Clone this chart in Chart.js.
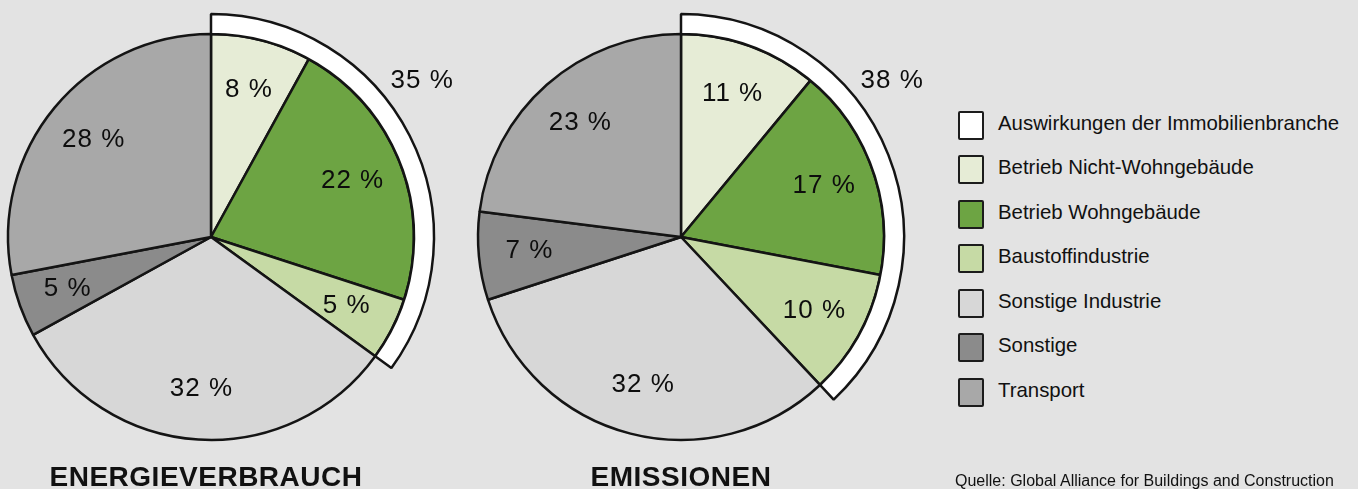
<!DOCTYPE html>
<html lang="de">
<head>
<meta charset="utf-8">
<title>Energieverbrauch und Emissionen</title>
<script src="https://cdn.jsdelivr.net/npm/chart.js@4.4.1/dist/chart.umd.min.js"></script>
<style>
    html, body { margin: 0; padding: 0; }
    body {
        width: 1358px; height: 489px; position: relative; overflow: hidden;
        background: #e3e3e3; color: #111;
        font-family: "Liberation Sans", Arial, sans-serif;
    }
    canvas.pie { position: absolute; top: -23px; }
    #energyPie { left: -49px; }
    #emissionPie { left: 421px; }
    .chart-title {
        position: absolute; top: 463px; line-height: 28px;
        font-size: 28px; font-weight: bold; letter-spacing: 0.5px;
        transform: translateX(-50%); white-space: nowrap;
    }
    .legend-row {
        position: absolute; left: 958px; height: 30px;
        display: flex; align-items: center;
    }
    .legend-box {
        width: 22px; height: 25px; border: 2.5px solid #1c1c1c; border-radius: 2px;
        margin-right: 14px; margin-top: 4px;
    }
    .legend-text { font-size: 20.4px; white-space: nowrap; }
    .source { position: absolute; left: 955px; top: 473px; font-size: 16px; line-height: 16px; white-space: nowrap; }
</style>
</head>
<body>
<canvas id="energyPie" class="pie" width="520" height="520"></canvas>
<canvas id="emissionPie" class="pie" width="520" height="520"></canvas>
<div class="chart-title" style="left:206px">ENERGIEVERBRAUCH</div>
<div class="chart-title" style="left:681px">EMISSIONEN</div>
<div id="legend"></div>
<div class="source">Quelle: Global Alliance for Buildings and Construction</div>

<script>
const categories = ['Betrieb Nicht-Wohngebäude', 'Betrieb Wohngebäude', 'Baustoffindustrie', 'Sonstige Industrie', 'Sonstige', 'Transport'];
const ringLabel = 'Auswirkungen der Immobilienbranche';

// shares in %
const energyValues = [8, 22, 5, 32, 5, 28];
const emissionValues = [11, 17, 10, 32, 7, 23];
const energyRing = 35;
const emissionRing = 38;

const sliceColors = ['#e6ecd6', '#6da443', '#c6daa5', '#d7d7d7', '#8b8b8b', '#a8a8a8'];
const ringColor = '#ffffff';
const lineColor = '#141414';

const labelPlugin = {
    id: 'sliceLabels',
    afterDatasetsDraw(chart) {
        const ctx = chart.ctx;
        ctx.save();
        ctx.fillStyle = '#0d0d0d';
        ctx.font = '26px "Liberation Sans", Arial, sans-serif';
        ctx.letterSpacing = '1px';
        ctx.textAlign = 'center';
        ctx.textBaseline = 'middle';

        // values inside the pie
        const pieMeta = chart.getDatasetMeta(1);
        const values = chart.data.datasets[1].data;
        pieMeta.data.forEach((arc, i) => {
            const mid = (arc.startAngle + arc.endAngle) / 2;
            const r = arc.outerRadius * 0.75;
            ctx.fillText(`${values[i]} %`, arc.x + Math.cos(mid) * r, arc.y + Math.sin(mid) * r);
        });

        // total of the white ring, outside at the upper right
        const ringArc = chart.getDatasetMeta(0).data[0];
        const ringValue = chart.data.datasets[0].data[0];
        const a = ringArc.startAngle + 0.935;
        const rr = ringArc.outerRadius * 1.177;
        ctx.fillText(`${ringValue} %`, ringArc.x + Math.cos(a) * rr, ringArc.y + Math.sin(a) * rr);
        ctx.restore();
    }
};

function drawPie(canvasId, values, ringValue) {
    const ctx = document.getElementById(canvasId).getContext('2d');
    return new Chart(ctx, {
        type: 'pie',
        data: {
            labels: categories,
            datasets: [{
                label: ringLabel,
                data: [ringValue, 100 - ringValue],
                backgroundColor: [ringColor, 'rgba(0,0,0,0)'],
                borderColor: lineColor,
                borderWidth: [2.5, 0],
                weight: 20
            }, {
                label: 'Anteil',
                data: values,
                backgroundColor: sliceColors,
                borderColor: lineColor,
                borderWidth: 2.5,
                weight: 203
            }]
        },
        options: {
            responsive: false,
            animation: false,
            radius: 223,
            cutout: 0,
            events: [],
            plugins: {
                legend: { display: false },
                tooltip: { enabled: false }
            }
        },
        plugins: [labelPlugin]
    });
}

function buildLegend() {
    const items = [{ name: ringLabel, color: ringColor }]
        .concat(categories.map((c, i) => ({ name: c, color: sliceColors[i] })));
    let html = '';
    items.forEach((item, i) => {
        const top = 108 + i * 44.5;
        html += `<div class="legend-row" style="top:${top}px">
            <div class="legend-box" style="background:${item.color}"></div>
            <span class="legend-text">${item.name}</span>
        </div>`;
    });
    document.getElementById('legend').innerHTML = html;
}

document.addEventListener('DOMContentLoaded', () => {
    drawPie('energyPie', energyValues, energyRing);
    drawPie('emissionPie', emissionValues, emissionRing);
    buildLegend();
});
</script>
</body>
</html>
